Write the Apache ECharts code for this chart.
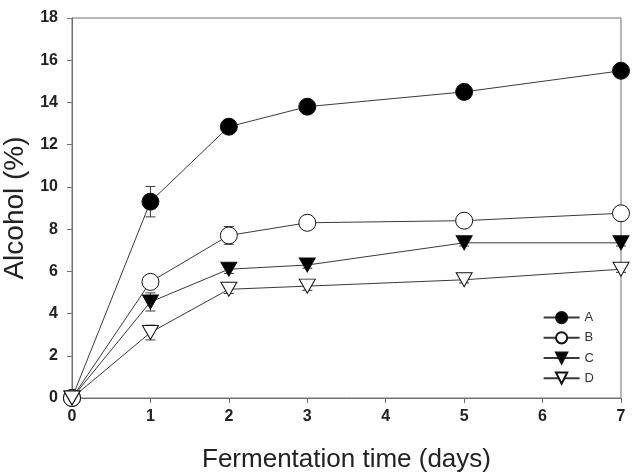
<!DOCTYPE html>
<html>
<head>
<meta charset="utf-8">
<script src="https://cdn.jsdelivr.net/npm/echarts@6/dist/echarts.min.js"></script>
<style>
  html, body { margin: 0; padding: 0; background: #fff; }
  #chart { width: 643px; height: 474px; }
</style>
</head>
<body>
<div id="chart"></div>
<script>
// fermentation days and alcohol (%) per treatment
const days = [0, 1, 2, 3, 5, 7]
const alcoholA = [0, 9.3, 12.85, 13.8, 14.5, 15.5]
const alcoholB = [0, 5.5, 7.7, 8.3, 8.4, 8.75]
const alcoholC = [0, 4.55, 6.1, 6.3, 7.35, 7.35]
const alcoholD = [0, 3.1, 5.15, 5.3, 5.6, 6.1]
// error bars (±)
const errA = [0, 0.72, 0.3, 0.15, 0.15, 0.15]
const errB = [0, 0.2, 0.42, 0.15, 0.15, 0.15]
const errC = [0, 0.43, 0.2, 0.15, 0.15, 0.15]
const errD = [0, 0.35, 0.2, 0.2, 0.15, 0.15]

const names = ['A', 'B', 'C', 'D']

const chart = echarts.init(document.getElementById('chart'))

const tri = 'path://M0,0 L12,0 L6,10.4 Z'

const lineColor = '#3a3a3a'
const axisColor = '#707070'

const pts = (vals) => days.map((d, i) => [d, vals[i]])
const errPts = (vals, errs) => days.map((d, i) => [d, vals[i], errs[i]])

const makeLine = (name, vals, symbol, fill, size) => ({
  name,
  type: 'line',
  data: pts(vals),
  symbol,
  symbolSize: size,
  showAllSymbol: true,
  clip: false,
  z: 3,
  lineStyle: { color: lineColor, width: 1 },
  itemStyle: { color: fill, borderColor: '#111', borderWidth: 1, opacity: 1 },
  emphasis: { disabled: true }
})

const makeErr = (vals, errs) => ({
  type: 'custom',
  data: errPts(vals, errs),
  z: 2,
  silent: true,
  clip: false,
  renderItem: (params, api) => {
    const x = api.value(0)
    const v = api.value(1)
    const e = api.value(2)
    if (!e) return
    const top = api.coord([x, v + e])
    const bot = api.coord([x, v - e])
    const cap = 5
    const style = { stroke: lineColor, lineWidth: 1 }
    return {
      type: 'group',
      children: [
        { type: 'line', shape: { x1: top[0], y1: top[1], x2: bot[0], y2: bot[1] }, style },
        { type: 'line', shape: { x1: top[0] - cap, y1: top[1], x2: top[0] + cap, y2: top[1] }, style },
        { type: 'line', shape: { x1: bot[0] - cap, y1: bot[1], x2: bot[0] + cap, y2: bot[1] }, style }
      ]
    }
  }
})

const option = {
  animation: false,
  backgroundColor: '#fff',
  textStyle: { fontFamily: 'Liberation Sans, Arial, sans-serif' },
  grid: {
    left: 72,
    right: 22,
    top: 18,
    bottom: 76,
    outerBoundsMode: 'none',
    containLabel: false,
    show: true,
    borderColor: axisColor,
    borderWidth: 1
  },
  legend: {
    data: names,
    orient: 'vertical',
    right: 44,
    top: 306,
    itemWidth: 36,
    itemHeight: 14,
    itemGap: 7,
    textStyle: { fontSize: 13, color: '#333' }
  },
  xAxis: {
    type: 'value',
    min: 0,
    max: 7,
    interval: 1,
    name: 'Fermentation time (days)',
    nameLocation: 'middle',
    nameGap: 49,
    nameTextStyle: { fontSize: 26, color: '#222' },
    axisLine: { show: true, lineStyle: { color: axisColor } },
    axisTick: { show: true, inside: false, length: 5, lineStyle: { color: axisColor } },
    axisLabel: { fontSize: 16, fontWeight: 'bold', color: '#222', margin: 11 },
    splitLine: { show: false }
  },
  yAxis: {
    type: 'value',
    min: 0,
    max: 18,
    interval: 2,
    name: 'Alcohol (%)',
    nameLocation: 'middle',
    nameGap: 38,
    nameRotate: 90,
    nameTextStyle: { fontSize: 28, color: '#222' },
    axisLine: { show: true, lineStyle: { color: axisColor } },
    axisTick: { show: true, inside: false, length: 5, lineStyle: { color: axisColor } },
    axisLabel: { fontSize: 16, fontWeight: 'bold', color: '#222', margin: 14 },
    splitLine: { show: false }
  },
  series: [
    makeErr(alcoholA, errA),
    makeErr(alcoholB, errB),
    makeErr(alcoholC, errC),
    makeErr(alcoholD, errD),
    makeLine('A', alcoholA, 'circle', '#000', 17),
    makeLine('B', alcoholB, 'circle', '#fff', 17),
    makeLine('C', alcoholC, tri, '#000', [16, 14]),
    makeLine('D', alcoholD, tri, '#fff', [16, 14])
  ]
}

chart.setOption(option)
</script>
</body>
</html>
